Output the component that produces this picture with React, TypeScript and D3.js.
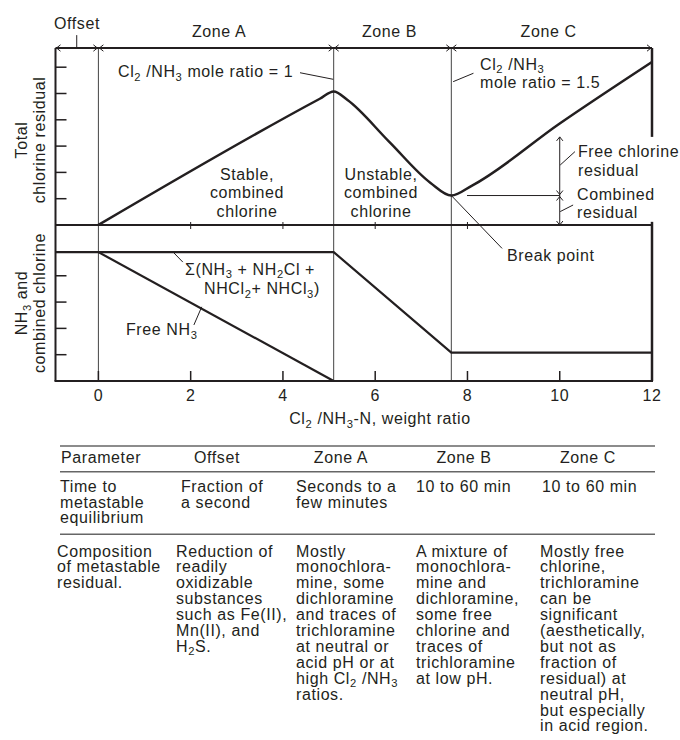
import React from "react";
import * as d3 from "d3";

// ---------- data ----------
const xTicks = [0, 2, 4, 6, 8, 10, 12];
const topYTicks = [1, 2, 3, 4, 5, 6];
const bottomYTicks = [1, 2, 3, 4];
const zoneEdges = [-0.93, 0, 5.1, 7.65, 12];
const zoneNames = ["Offset", "Zone A", "Zone B", "Zone C"];
const midTicks = [2, 4, 6, 8];

// total chlorine residual (top panel)
const totalX = [0, 4.8, 5.1, 5.4, 6.3, 7.2, 7.65, 8.1, 10, 12];
const totalY = [0, 4.8, 5.08, 4.75, 3.17, 1.6, 1.12, 1.5, 3.86, 6.2];
// Σ(NH3 + NH2Cl + NHCl2 + NHCl3) (bottom panel)
const sumX = [-0.93, 5.1, 7.65, 12];
const sumY = [4.9, 4.9, 1.08, 1.08];
// free NH3 (bottom panel)
const freeX = [0, 5.1];
const freeY = [4.9, 0];

const tableHeader = ["Parameter", "Offset", "Zone A", "Zone B", "Zone C"];
const row1 = [
  ["Time to", "metastable", "equilibrium"],
  ["Fraction of", "a second"],
  ["Seconds to a", "few minutes"],
  ["10 to 60 min"],
  ["10 to 60 min"],
];
const row2 = [
  ["Composition", "of metastable", "residual."],
  ["Reduction of", "readily", "oxidizable", "substances", "such as Fe(II),", "Mn(II), and", "H_2S."],
  ["Mostly", "monochlora-", "mine, some", "dichloramine", "and traces of", "trichloramine", "at neutral or", "acid pH or at", "high Cl_2 /NH_3", "ratios."],
  ["A mixture of", "monochlora-", "mine and", "dichloramine,", "some free", "chlorine and", "traces of", "trichloramine", "at low pH."],
  ["Mostly free", "chlorine,", "trichloramine", "can be", "significant", "(aesthetically,", "but not as", "fraction of", "residual) at", "neutral pH,", "but especially", "in acid region."],
];

// ---------- styles ----------
const FONT = "'Liberation Sans', Arial, Helvetica, sans-serif";
const FS = 16;
const LS = 0.6;
const INK = "#231f20";
const SUB = 3.5;

function Rich({ x, y, text, anchor = "start", size = FS, transform }: any) {
  const parts = text.split(/(_\d)/).filter((p: string) => p.length);
  let prevSub = false;
  return (
    <text
      x={x}
      y={y}
      textAnchor={anchor}
      fontSize={size}
      fontFamily={FONT}
      fill={INK}
      letterSpacing={LS}
      transform={transform}
    >
      {parts.map((p: string, i: number) => {
        if (p.startsWith("_")) {
          prevSub = true;
          return (
            <tspan key={i} fontSize={size * 0.7} dy={SUB}>
              {p.slice(1)}
            </tspan>
          );
        }
        const dy = prevSub ? -SUB : 0;
        prevSub = false;
        return (
          <tspan key={i} dy={dy}>
            {p}
          </tspan>
        );
      })}
    </text>
  );
}

function Lines({ x, y, lines, lh, anchor = "start" }: any) {
  return (
    <g>
      {lines.map((l: string, i: number) => (
        <Rich key={i} x={x} y={y + i * lh} text={l} anchor={anchor} />
      ))}
    </g>
  );
}

function Chevron({ x, y, dir }: any) {
  const s = 4;
  let d = "";
  if (dir === "r") d = `M${x - s},${y - s * 0.8}L${x},${y}L${x - s},${y + s * 0.8}`;
  if (dir === "l") d = `M${x + s},${y - s * 0.8}L${x},${y}L${x + s},${y + s * 0.8}`;
  if (dir === "u") d = `M${x - s * 0.8},${y + s}L${x},${y}L${x + s * 0.8},${y + s}`;
  if (dir === "d") d = `M${x - s * 0.8},${y - s}L${x},${y}L${x + s * 0.8},${y - s}`;
  return <path d={d} fill="none" stroke={INK} strokeWidth={1} />;
}

export default function App() {
  const x = d3.scaleLinear().domain([-0.93, 12]).range([55.5, 652]);
  const yT = d3.scaleLinear().domain([0, 6.73]).range([225, 48]);
  const yB = d3.scaleLinear().domain([0, 5.93]).range([381, 225]);

  const lineT = d3
    .line<number>()
    .x((_, i) => x(totalX[i]))
    .y((d) => yT(d))
    .curve(d3.curveMonotoneX);
  const lineLin = (xs: number[], ys: number[], ys2: any) =>
    d3.line<number>().x((_, i) => x(xs[i])).y((d) => ys2(d))(ys) || "";

  const left = x(-0.93);
  const right = x(12);
  const top = yT(6.73);
  const mid = yT(0);
  const bottom = yB(0);

  const colHeadX = [61, 217, 341, 464, 588];
  const row1X = [60, 181, 296, 416, 542];
  const row2X = [57, 176, 296, 416, 540];

  return (
    <svg
      width={680}
      height={740}
      style={{ position: "absolute", left: 0, top: 0, background: "#fff" }}
    >
      {/* zone boundaries (thin) */}
      {zoneEdges.slice(1, 4).map((z) => (
        <line key={z} x1={x(z)} x2={x(z)} y1={top} y2={bottom} stroke="#444" strokeWidth={1} />
      ))}

      {/* frame */}
      <line x1={left} x2={left} y1={top} y2={bottom} stroke={INK} strokeWidth={2} />
      <line x1={left} x2={right} y1={top} y2={top} stroke={INK} strokeWidth={2} />
      <line x1={left} x2={right} y1={mid} y2={mid} stroke={INK} strokeWidth={2} />
      <line x1={left - 1} x2={right + 1} y1={bottom} y2={bottom} stroke={INK} strokeWidth={2} />
      <line x1={right} x2={right} y1={top} y2={yT(3.35)} stroke={INK} strokeWidth={2.5} />
      <line x1={right} x2={right} y1={yT(0.12)} y2={bottom} stroke={INK} strokeWidth={2.5} />

      {/* top dimension arrows */}
      {zoneEdges.map((z, i) => (
        <g key={"a" + i}>
          {i > 0 && <Chevron x={x(z) - 1} y={top} dir="r" />}
          {i < zoneEdges.length - 1 && <Chevron x={x(z) + 1} y={top} dir="l" />}
        </g>
      ))}
      {/* Offset leader */}
      <line x1={x(-0.47)} x2={x(-0.47)} y1={yT(7.22)} y2={top} stroke={INK} strokeWidth={1} />

      {/* y ticks */}
      {topYTicks.map((t) => (
        <line key={"t" + t} x1={left} x2={left + 11} y1={yT(t)} y2={yT(t)} stroke={INK} strokeWidth={1.5} />
      ))}
      {bottomYTicks.map((t) => (
        <line key={"b" + t} x1={left} x2={left + 11} y1={yB(t)} y2={yB(t)} stroke={INK} strokeWidth={1.5} />
      ))}
      {/* x ticks bottom */}
      {xTicks.map((t) => (
        <g key={"x" + t}>
          <line x1={x(t)} x2={x(t)} y1={bottom} y2={bottom - 10} stroke={INK} strokeWidth={1.5} />
          <text x={x(t)} y={401} textAnchor="middle" fontSize={FS} fontFamily={FONT} fill={INK} letterSpacing={LS}>
            {t}
          </text>
        </g>
      ))}
      {midTicks.map((t) => (
        <line key={"m" + t} x1={x(t)} x2={x(t)} y1={mid - 3} y2={mid + 4} stroke={INK} strokeWidth={1} />
      ))}

      {/* curves */}
      <path d={lineT(totalY) || ""} fill="none" stroke={INK} strokeWidth={2.5} strokeLinejoin="round" />
      <path d={lineLin(sumX, sumY, yB)} fill="none" stroke={INK} strokeWidth={2.2} />
      <path d={lineLin(freeX, freeY, yB)} fill="none" stroke={INK} strokeWidth={2.2} />

      {/* free / combined residual bracket */}
      <line x1={x(10)} x2={x(10)} y1={yT(3.35)} y2={mid} stroke={INK} strokeWidth={1} />
      <line x1={x(7.99)} x2={x(10)} y1={yT(1.12)} y2={yT(1.12)} stroke={INK} strokeWidth={1} />
      <Chevron x={x(10)} y={yT(3.35)} dir="u" />
      <Chevron x={x(10)} y={yT(1.12) - 1} dir="d" />
      <Chevron x={x(10)} y={yT(1.12) + 1} dir="u" />
      <Chevron x={x(10)} y={mid} dir="d" />
      <line x1={x(10.33)} y1={yT(2.79)} x2={x(10.01)} y2={yT(2.28)} stroke={INK} strokeWidth={1} />
      <line x1={x(10.29)} y1={yT(0.76)} x2={x(10.01)} y2={yT(0.51)} stroke={INK} strokeWidth={1} />

      {/* leaders */}
      <line x1={x(4.37)} y1={yT(5.79)} x2={x(5.09)} y2={yT(5.54)} stroke={INK} strokeWidth={1} />
      <line x1={x(8.13)} y1={yT(5.77)} x2={x(7.69)} y2={yT(5.45)} stroke={INK} strokeWidth={1} />
      <line x1={x(7.65)} y1={yT(1.12)} x2={x(8.75)} y2={yB(5.04)} stroke={INK} strokeWidth={1} />
      <line x1={x(1.62)} y1={yB(4.9)} x2={x(1.83)} y2={yB(4.52)} stroke={INK} strokeWidth={1} />
      <line x1={x(2.07)} y1={yB(2.13)} x2={x(2.24)} y2={yB(2.82)} stroke={INK} strokeWidth={1} />

      {/* zone labels */}
      {zoneNames.map((n, i) => (
        <Rich
          key={n}
          x={i === 0 ? 77 : (x(zoneEdges[i]) + x(zoneEdges[i + 1])) / 2 + (i === 1 ? 3 : -3)}
          y={i === 0 ? 29.3 : 37.3}
          text={n}
          anchor="middle"
        />
      ))}

      {/* annotations */}
      <Rich x={118} y={77.3} text="Cl_2 /NH_3 mole ratio = 1" />
      <Lines x={480} y={69.5} lines={["Cl_2 /NH_3", "mole ratio = 1.5"]} lh={18.7} />
      <Lines x={247} y={180} lines={["Stable,", "combined", "chlorine"]} lh={18.3} anchor="middle" />
      <Lines x={381} y={180} lines={["Unstable,", "combined", "chlorine"]} lh={18.3} anchor="middle" />
      <Lines x={578} y={157.3} lines={["Free chlorine", "residual"]} lh={18.2} />
      <Lines x={577} y={200} lines={["Combined", "residual"]} lh={18} />
      <Rich x={507} y={260.7} text="Break point" />
      <Rich x={185} y={274.5} text="Σ(NH_3 + NH_2Cl +" />
      <Rich x={204} y={294} text="NHCl_2+ NHCl_3)" />
      <Rich x={126} y={335} text="Free NH_3" />

      {/* axis titles */}
      <Rich x={380} y={424} text="Cl_2 /NH_3-N, weight ratio" anchor="middle" />
      <Rich x={0} y={0} text="Total" anchor="middle" transform="translate(26.7,140) rotate(-90)" />
      <Rich x={0} y={0} text="chlorine residual" anchor="middle" transform="translate(45,140) rotate(-90)" />
      <Rich x={0} y={0} text="NH_3 and" anchor="middle" transform="translate(27,303) rotate(-90)" />
      <Rich x={0} y={0} text="combined chlorine" anchor="middle" transform="translate(45,303) rotate(-90)" />

      {/* table */}
      {[446, 471.7, 534.3].map((ly) => (
        <line key={ly} x1={60} x2={655} y1={ly} y2={ly} stroke="#666" strokeWidth={1.5} />
      ))}
      {tableHeader.map((h, i) => (
        <Rich key={h} x={colHeadX[i]} y={463.3} text={h} anchor={i === 0 ? "start" : "middle"} />
      ))}
      {row1.map((ls, i) => (
        <Lines key={"r1" + i} x={row1X[i]} y={491.7} lines={ls} lh={15.8} />
      ))}
      {row2.map((ls, i) => (
        <Lines key={"r2" + i} x={row2X[i]} y={556.5} lines={ls} lh={15.9} />
      ))}
    </svg>
  );
}
